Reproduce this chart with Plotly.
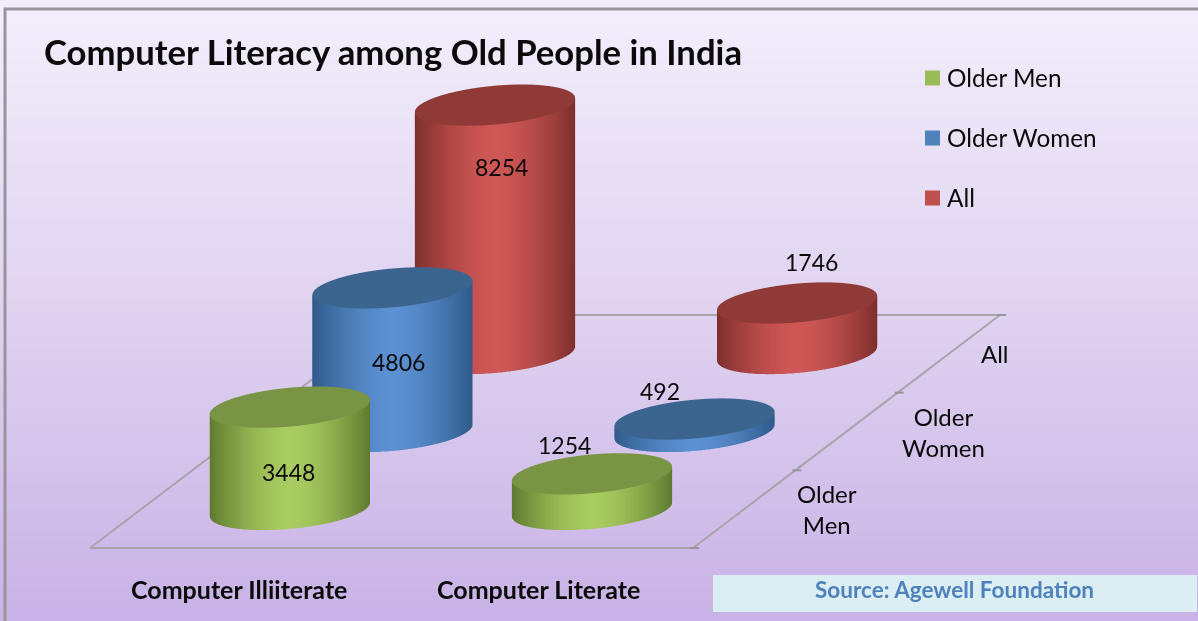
import numpy as np
import plotly.graph_objects as go

title = "Computer Literacy among Old People in India"
categories = ["Computer Illiiterate", "Computer Literate"]
series = ["Older Men", "Older Women", "All"]
axis_labels = ["Older<br>Men", "Older<br>Women", "All"]
older_men = [3448, 1254]
older_women = [4806, 492]
all_people = [8254, 1746]
source = "Source: Agewell Foundation"

W, H = 1198, 621
FLOOR = 80
ZTOP = 9000
SHEAR = 0.3394
RX, RY = 0.2495, 0.265
FONT = "Lato"

# oblique floor plane on the page: origin and size of one category / one series step
FLOOR_X0, FLOOR_DX = 90, 301.5
FLOOR_Y0, FLOOR_DY = 548, 77.67

# dark edge, light centre, top face
PALETTE = [("#5f7a2f", "#a9cc60", "#7a9445"),
           ("#2f5a8a", "#5b90d2", "#3b648f"),
           ("#7d2f2d", "#cf5755", "#8f3a37")]
LEGEND = ["#9bbb59", "#4f81bd", "#c0504d"]

fig = go.Figure()

# page background
fig.add_trace(go.Heatmap(x=[5, W], y=[9, H], z=[[0, 0], [1, 1]], zsmooth="best", showscale=False,
                         hoverinfo="skip", zmin=0, zmax=1,
                         colorscale=[[0, "#f3edfb"], [0.5, "#dfd2f0"], [1, "#c8b2e6"]]))


def cylinder(col, row, value, colours):
    dark, light, top = colours
    t = np.linspace(0, 2 * np.pi, 181)
    cx, cy = col + 0.5, row + 0.5
    xs = cx + SHEAR * cy + RX * np.cos(t) + SHEAR * RY * np.sin(t)
    ys = cy + RY * np.sin(t)
    half = np.hypot(RX, SHEAR * RY)
    u = np.abs((xs - (cx + SHEAR * cy)) / half)
    shade = np.clip(1 - u ** 1.6, 0, 1)
    lit = dict(ambient=1, diffuse=0, specular=0, roughness=1, fresnel=0)
    side = go.Surface(x=np.array([xs, xs]), y=np.array([ys, ys]),
                      z=np.array([[FLOOR] * t.size, [value] * t.size]),
                      surfacecolor=np.array([shade, shade]), cmin=0, cmax=1,
                      colorscale=[[0, dark], [1, light]], showscale=False,
                      lighting=lit, hoverinfo="skip")
    r = np.array([0, 1.0])
    tx = cx + SHEAR * cy + np.outer(r, RX * np.cos(t) + SHEAR * RY * np.sin(t))
    ty = cy + np.outer(r, RY * np.sin(t))
    cap = go.Surface(x=tx, y=ty, z=np.full(tx.shape, value),
                     surfacecolor=np.zeros(tx.shape), cmin=0, cmax=1,
                     colorscale=[[0, top], [1, top]], showscale=False,
                     lighting=lit, hoverinfo="skip")
    return side, cap


n_cat, n_ser = len(categories), len(series)


def floor_px(c, s):
    return FLOOR_X0 + FLOOR_DX * (c + SHEAR * s), FLOOR_Y0 - FLOOR_DY * s


# floor outline and depth ticks, behind the cylinders
corners = [floor_px(c, s) for c, s in [(0, 0), (n_cat, 0), (n_cat, n_ser), (0, n_ser), (0, 0)]]
fig.add_trace(go.Scatter(x=[p[0] for p in corners], y=[p[1] for p in corners], mode="lines",
                         line=dict(color="#a8a4ac", width=2), hoverinfo="skip", showlegend=False))
tx_, ty_ = [], []
for i in range(n_ser + 1):
    px, py = floor_px(n_cat, i)
    tx_ += [px - 3, px + 6, None]
    ty_ += [py, py, None]
fig.add_trace(go.Scatter(x=tx_, y=ty_, mode="lines", line=dict(color="#98949c", width=2),
                         hoverinfo="skip", showlegend=False))

for row, vals in enumerate([older_men, older_women, all_people]):
    for col, v in enumerate(vals):
        for s in cylinder(col, row, v, PALETTE[row]):
            fig.add_trace(s)

# legend keys, drawn as square markers with their labels beside them
for name, c, ypos in zip(series, LEGEND, [78, 138, 198]):
    fig.add_trace(go.Scatter(x=[932.5], y=[ypos], mode="markers", name=name, showlegend=False,
                             marker=dict(symbol="square", size=15, color=c), hoverinfo="skip"))

txt = dict(xref="x", yref="y", showarrow=False, font=dict(family=FONT, size=23, color="#0a0a0a"))
ann = []
for pos, v in zip([(501, 167), (398, 362), (288, 472), (564, 445), (660, 391), (811, 262)],
                  [all_people[0], older_women[0], older_men[0], older_men[1], older_women[1], all_people[1]]):
    ann.append(dict(x=pos[0], y=pos[1], text=str(v), **txt))
for pos, s in zip([(827, 508.5), (943, 431.5), (995, 353)], axis_labels):
    ann.append(dict(x=pos[0], y=pos[1], text=s, xref="x", yref="y", showarrow=False,
                    font=dict(family=FONT, size=24, color="#0a0a0a")))
for pos, s in zip([(239, 589), (538, 589)], categories):
    ann.append(dict(x=pos[0], y=pos[1], text="<b>%s</b>" % s, xref="x", yref="y", showarrow=False,
                    font=dict(family=FONT, size=25, color="#0a0a0a")))
for name, ypos in zip(series, [77, 137, 197]):
    ann.append(dict(x=944.5, y=ypos, text=name, xref="x", yref="y", showarrow=False, xanchor="left",
                    font=dict(family=FONT, size=24.3, color="#0a0a0a")))
ann.append(dict(x=393, y=51.5, text="<b>%s</b>" % title, xref="x", yref="y", showarrow=False,
                font=dict(family=FONT, size=34.7, color="#0a0a0a")))
ann.append(dict(x=954, y=589.5, text="<b>%s</b>" % source, xref="x", yref="y", showarrow=False,
                font=dict(family=FONT, size=22.5, color="#4f81bd")))

fig.update_layout(
    width=W, height=H, autosize=False, margin=dict(l=0, r=0, t=0, b=0), paper_bgcolor="white",
    plot_bgcolor="white", annotations=ann,
    xaxis=dict(range=[0, W], visible=False, domain=[0, 1], fixedrange=True),
    yaxis=dict(range=[H, 0], visible=False, domain=[0, 1], fixedrange=True),
    showlegend=False,
    shapes=[dict(type="rect", xref="x", yref="y", x0=5, y0=9, x1=W + 20, y1=H + 20,
                 line=dict(color="#98949c", width=3)),
            dict(type="rect", xref="x", yref="y", x0=713, y0=575, x1=1197, y1=612,
                 fillcolor="#daeef3", line=dict(width=0))],
    scene=dict(
        domain=dict(x=[0, 2 * 543.5 / W], y=[1 - 592 / H, 1]),
        bgcolor="rgba(0,0,0,0)",
        xaxis=dict(visible=False, range=[0, n_cat + SHEAR * n_ser]),
        yaxis=dict(visible=False, range=[0, n_ser]),
        zaxis=dict(visible=False, range=[FLOOR, ZTOP]),
        aspectmode="manual",
        aspectratio=dict(x=3.07 * 592 / 590, y=1.121 * 590 / 592, z=1.30 * 590 / 592),
        camera=dict(eye=dict(x=0, y=-4, z=4), center=dict(x=0, y=0, z=0),
                    up=dict(x=0, y=0, z=1), projection=dict(type="orthographic")),
    ),
)
fig.write_html("out.html", post_script="document.body.style.margin='0';", config=dict(displayModeBar=False))
